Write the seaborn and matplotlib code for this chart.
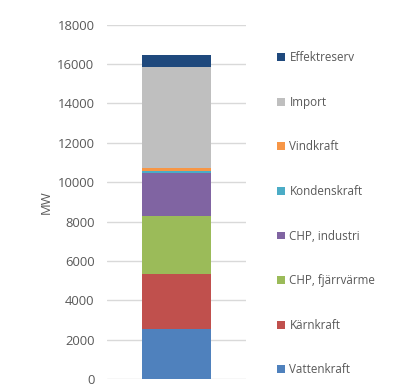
import matplotlib
matplotlib.use("Agg")
import matplotlib.pyplot as plt
from matplotlib.patches import Patch
import numpy as np
import seaborn as sns

# installed capacity per source (MW), bottom to top
sources = ["Vattenkraft", "Kärnkraft", "CHP, fjärrvärme", "CHP, industri",
           "Kondenskraft", "Vindkraft", "Import", "Effektreserv"]
values = [2550, 2790, 2960, 2150, 120, 170, 5130, 590]
colors = ["#4F81BD", "#C0504D", "#9BBB59", "#8064A2",
          "#4BACC6", "#F79646", "#BFBFBF", "#1F497D"]
yticks = [0, 2000, 4000, 6000, 8000, 10000, 12000, 14000, 16000, 18000]

sns.set_style("white")
plt.rcParams["font.family"] = ["Open Sans", "DejaVu Sans"]
txt = "#595959"

fig = plt.figure(figsize=(4, 3.9), dpi=100)
ax = fig.add_axes([0.2675, 0.0274, 0.3475, 0.9096])

# stacked bar: draw cumulative totals from the top down
cum = np.cumsum(values)
for i in range(len(values) - 1, -1, -1):
    sns.barplot(x=[""], y=[cum[i]], color=colors[i], width=0.5,
                saturation=1, linewidth=0, edgecolor="none", ax=ax, zorder=2)

ax.set_xlim(-0.5, 0.5)
ax.set_ylim(0, 18000)
ax.set_yticks(yticks)
ax.set_yticklabels([str(v) for v in yticks], fontsize=9.4, color=txt)
ax.set_xticks([])
ax.set_xlabel("")
ax.set_ylabel("MW", fontsize=9.4, color=txt, labelpad=3)
ax.tick_params(axis="y", length=0, pad=9)
ax.set_axisbelow(True)
ax.grid(axis="y", color="#D9D9D9", linewidth=1)
for s in ax.spines.values():
    s.set_visible(False)

handles = [Patch(facecolor=colors[i], edgecolor="none", label=sources[i])
           for i in range(len(sources) - 1, -1, -1)]
fig.legend(handles=handles, loc="upper left", bbox_to_anchor=(0.693, 0.869),
           frameon=False, fontsize=8.4, labelcolor=txt, handlelength=0.65,
           handleheight=0.65, handletextpad=0.4, labelspacing=2.71,
           borderaxespad=0, borderpad=0)

fig.savefig("out.png", dpi=100)
